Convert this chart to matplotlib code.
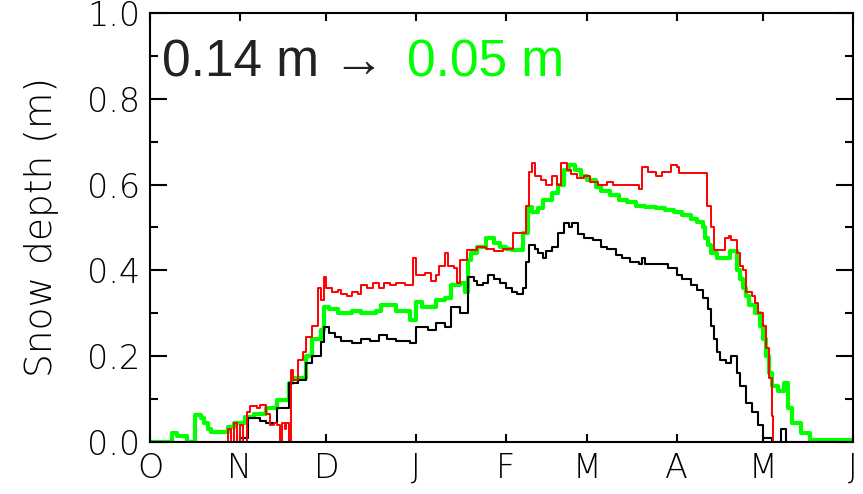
import numpy as np
import matplotlib.pyplot as plt

# days since 1 October, and snow depth (m) at each change point
black_days = [0, 31, 34, 38, 40, 44, 48, 51, 54, 56, 59, 60, 62, 64, 66, 70, 73, 76, 79, 82,
              85, 90, 92, 96, 99, 102, 104, 107, 110, 112, 113, 115, 117, 119, 121, 123, 125,
              127, 129, 130, 131, 133, 134, 136, 137, 139, 141, 143, 145, 146, 148, 150, 153,
              156, 158, 161, 163, 166, 169, 170, 171, 175, 179, 182, 184, 187, 189, 191, 193,
              194, 195, 196, 197, 199, 201, 203, 204, 206, 208, 210, 212, 215, 218, 220, 243]
black_depth = [0.0, 0.01, 0.055, 0.05, 0.045, 0.08, 0.137, 0.145, 0.184, 0.2, 0.233, 0.268,
               0.255, 0.245, 0.235, 0.23, 0.24, 0.235, 0.25, 0.24, 0.235, 0.23, 0.267, 0.262,
               0.277, 0.268, 0.315, 0.3, 0.385, 0.375, 0.365, 0.37, 0.39, 0.38, 0.37, 0.36,
               0.35, 0.345, 0.36, 0.42, 0.46, 0.45, 0.44, 0.43, 0.445, 0.455, 0.487, 0.51, 0.5,
               0.51, 0.485, 0.475, 0.47, 0.455, 0.45, 0.435, 0.43, 0.42, 0.415, 0.43, 0.415,
               0.415, 0.405, 0.39, 0.38, 0.365, 0.355, 0.335, 0.31, 0.27, 0.24, 0.21, 0.19,
               0.185, 0.2, 0.16, 0.13, 0.09, 0.07, 0.04, 0.01, 0.0, 0.03, 0.0, 0.0]

green_days = [0, 7.6, 9.5, 12.8, 15.6, 17.5, 18.5, 20, 21, 27, 29, 33, 36, 40, 44, 48, 49, 54,
              56, 59, 60, 62, 65, 70, 73, 78, 80, 85, 90, 92, 94, 99, 102, 104, 107, 109, 110,
              111, 113, 116, 119, 121, 123, 125, 129, 130.5, 132, 134, 136, 139, 141, 143, 145,
              147, 149, 151, 154, 156, 159, 162, 165, 168, 171, 175, 178, 181, 184, 187, 189,
              191, 192, 193, 194, 196, 199, 200.5, 203, 204, 205, 206, 207, 209, 211, 212, 213,
              214, 215, 217, 219, 220.5, 222, 225, 228, 243]
green_depth = [0.0, 0.02, 0.015, 0.0, 0.063, 0.055, 0.044, 0.03, 0.024, 0.035, 0.044, 0.058,
               0.065, 0.08, 0.098, 0.137, 0.15, 0.2, 0.24, 0.26, 0.315, 0.31, 0.3, 0.305, 0.3,
               0.305, 0.32, 0.305, 0.285, 0.327, 0.315, 0.33, 0.335, 0.365, 0.37, 0.35, 0.425,
               0.44, 0.455, 0.475, 0.465, 0.455, 0.45, 0.447, 0.487, 0.548, 0.535, 0.545, 0.565,
               0.58, 0.6, 0.635, 0.645, 0.635, 0.62, 0.61, 0.595, 0.585, 0.575, 0.565, 0.56,
               0.55, 0.548, 0.545, 0.54, 0.535, 0.53, 0.52, 0.513, 0.5, 0.475, 0.46, 0.44, 0.43,
               0.43, 0.445, 0.4, 0.38, 0.36, 0.34, 0.32, 0.3, 0.27, 0.24, 0.2, 0.16, 0.13, 0.12,
               0.137, 0.08, 0.044, 0.02, 0.005, 0.005]

red_days = [0, 27, 28, 29, 30, 31, 32, 33.5, 34.5, 37, 38, 40, 41.5, 43, 44, 45, 45.5, 46.5,
            47, 48, 48.6, 49.5, 51, 53, 54, 56, 58, 59, 60, 61, 63, 65, 66, 68, 70, 72, 73, 75,
            77, 79, 81, 83, 85, 88, 91, 92, 95, 97, 99, 100, 102, 103, 105, 106, 107, 109.5,
            113, 116, 119, 122, 125.5, 130, 131, 132, 133, 135, 137, 139, 140.7, 142, 144,
            145.5, 147.6, 150, 152, 155, 158, 160, 165, 169, 170, 172, 175, 177, 180, 182, 183,
            192.5, 194, 195, 198.7, 200, 201, 203, 204, 205, 206, 208, 209, 210, 212, 213, 214,
            215, 215.5, 243]
red_depth = [0.0, 0.03, 0.0, 0.045, 0.0, 0.04, 0.0, 0.07, 0.085, 0.08, 0.086, 0.065, 0.04,
             0.045, 0.04, 0.0, 0.044, 0.03, 0.045, 0.0, 0.168, 0.145, 0.19, 0.21, 0.245, 0.27,
             0.36, 0.33, 0.385, 0.36, 0.35, 0.355, 0.345, 0.34, 0.35, 0.345, 0.365, 0.36, 0.37,
             0.36, 0.37, 0.365, 0.37, 0.365, 0.43, 0.39, 0.395, 0.375, 0.39, 0.41, 0.44, 0.41,
             0.405, 0.37, 0.425, 0.448, 0.455, 0.45, 0.445, 0.45, 0.487, 0.55, 0.63, 0.65, 0.62,
             0.61, 0.6, 0.62, 0.6, 0.65, 0.635, 0.625, 0.615, 0.62, 0.605, 0.6, 0.605, 0.6, 0.6,
             0.59, 0.64, 0.63, 0.62, 0.63, 0.645, 0.64, 0.627, 0.55, 0.5, 0.448, 0.475, 0.48,
             0.47, 0.44, 0.41, 0.4, 0.35, 0.34, 0.325, 0.3, 0.27, 0.22, 0.15, 0.06, 0.0, 0.0]

month_starts = [0, 31, 61, 92, 123, 151, 182, 212, 243]
month_labels = ['O', 'N', 'D', 'J', 'F', 'M', 'A', 'M', 'J']

depth_before = '0.14 m'
depth_after = '0.05 m'

fig = plt.figure(figsize=(8.63, 4.94), dpi=100)
ax = fig.add_axes([0.1738, 0.1053, 0.8146, 0.8684])

ax.plot(green_days, green_depth, drawstyle='steps-post', color='#00ff00', lw=3.0)
ax.plot(black_days, black_depth, drawstyle='steps-post', color='black', lw=1.5)
ax.plot(red_days, red_depth, drawstyle='steps-post', color='#ff0000', lw=1.4)

ax.set_xlim(0, 243)
ax.set_ylim(0, 1.0)
ax.set_xticks(month_starts)
ax.set_xticklabels(month_labels)
ax.set_yticks(np.arange(0, 1.01, 0.2))
ax.set_yticks(np.arange(0.1, 1.0, 0.2), minor=True)
ax.set_yticklabels(['%.1f' % v for v in np.arange(0, 1.01, 0.2)])

for s in ax.spines.values():
    s.set_linewidth(1.5)
ax.tick_params(axis='x', which='major', direction='in', top=True, length=6, width=1.5,
               pad=7, labelsize=24)
ax.tick_params(axis='y', which='major', direction='in', right=True, length=12, width=1.5,
               pad=7, labelsize=24)
ax.tick_params(axis='y', which='minor', direction='in', right=True, length=6, width=1.5)
for lab in ax.get_xticklabels() + ax.get_yticklabels():
    lab.set_fontweight('light')

ax.set_ylabel('Snow depth (m)', fontsize=27, fontweight='light', labelpad=20)

ax.text(0.017, 0.853, depth_before + ' \u2192', transform=ax.transAxes, fontsize=37,
        family='Liberation Sans', color='#222222', va='baseline', ha='left')
ax.text(0.366, 0.853, depth_after, transform=ax.transAxes, fontsize=37,
        family='Liberation Sans', color='#00ff00', va='baseline', ha='left')

fig.savefig('out.png', dpi=100)
